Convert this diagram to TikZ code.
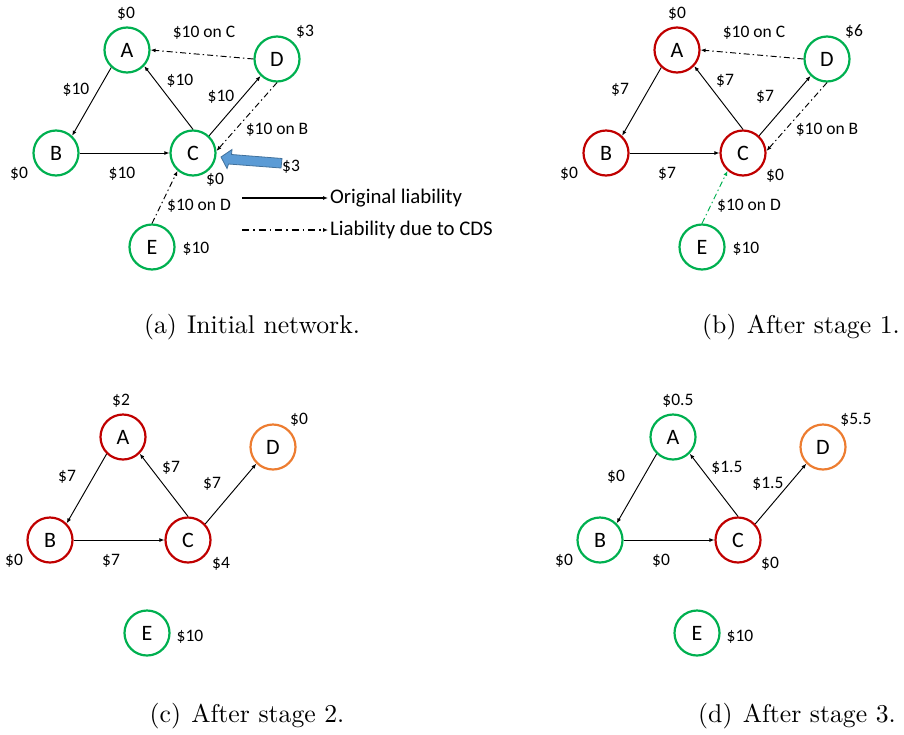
\documentclass[tikz,border=0pt]{standalone}
\usepackage{fontspec}
\newfontfamily\calfont{Carlito}
\usetikzlibrary{arrows.meta}
\definecolor{okgreen}{RGB}{0,176,80}
\definecolor{badred}{RGB}{192,0,0}
\definecolor{hitorange}{RGB}{237,125,49}
\definecolor{shockfill}{RGB}{91,155,213}
\definecolor{shockline}{RGB}{65,113,156}
\tikzset{
  bank/.style={circle,draw,line width=2.2pt,minimum size=45pt,inner sep=0,
    font=\calfont\fontsize{22}{22}\selectfont},
  sound/.style={bank,draw=okgreen},
  failed/.style={bank,draw=badred},
  hit/.style={bank,draw=hitorange},
  liab/.style={line width=0.95pt,-{Latex[length=5pt,width=4pt]}},
  cds/.style={liab,dash pattern=on 6pt off 3pt on 1.5pt off 3pt},
  legline/.style={line width=1.4pt},
  amt/.style={inner sep=0,font=\calfont\fontsize{17.5}{17.5}\selectfont},
  legtxt/.style={anchor=west,inner sep=0,font=\calfont\fontsize{20.8}{21}\selectfont},
  subcap/.style={inner sep=0,scale=2.57,font=\fontsize{10}{12}\selectfont}
}

\begin{document}
\begin{tikzpicture}[x=1pt,y=-1pt]
  \useasboundingbox (0,0) rectangle (904,734);

  % (a) initial network
  \node[sound] (aA) at (127,50) {A};
  \node[sound] (aB) at (56,153) {B};
  \node[sound] (aC) at (193,153) {C};
  \node[sound] (aD) at (277,59) {D};
  \node[sound] (aE) at (152,247) {E};
  \draw[liab] (aA.-132) -- (aB.47);
  \draw[liab] (aC.90) -- (aA.-43);
  \draw[liab] (aB) -- (aC);
  \draw[liab] (aC.47) -- (aD.-134);
  \draw[cds] (aD.west) -- (aA.east);
  \draw[cds] (aD.-90) -- (aC.5);
  \draw[cds] (aE.90) -- (aC.-131);
  \node[amt] (aAv) at (126,14) {\$0};
  \node[amt] (aDA) at (204,33) {\$10 on C};
  \node[amt] (aDv) at (305,32) {\$3};
  \node[amt] (aAB) at (76,90) {\$10};
  \node[amt] (aCA) at (180,81) {\$10};
  \node[amt] (aCD) at (221,97) {\$10};
  \node[amt] (aDC) at (277,130) {\$10 on B};
  \node[amt] (aBv) at (19,174) {\$0};
  \node[amt] (aBC) at (122,174) {\$10};
  \node[amt] (aCv) at (215,180) {\$0};
  \node[amt] (aEC) at (199,206) {\$10 on D};
  \node[amt] (aEv) at (196,249) {\$10};
  % shock on C
  \filldraw[fill=shockfill,draw=shockline,line width=0.8pt]
    (221,157) -- (232,149.5) -- (231.5,154.5) -- (282,158.5)
    -- (281,168) -- (228.5,164) -- (227,168.5) -- cycle;
  \node[amt] (shock) at (291,167) {\$3};
  % legend
  \node[legtxt] (legorig) at (330,198) {Original liability};
  \node[legtxt] (legcds) at (330,230) {Liability due to CDS};
  \coordinate (legA) at (242,198);
  \coordinate (legB) at (242,230);
  \draw[liab,legline] (legA) -- ([xshift=-2pt]legA -| legorig.west);
  \draw[cds,legline,dash pattern=on 7pt off 4pt on 1.5pt off 4pt] (legB) -- ([xshift=-2pt]legB -| legcds.west);
  \node[subcap] (capa) at (252,327) {(a)\hspace{.4em}Initial network.};

  % (b) after stage 1
  \node[failed] (bA) at (677,50) {A};
  \node[failed] (bB) at (606,153) {B};
  \node[failed] (bC) at (743,153) {C};
  \node[sound] (bD) at (827,59) {D};
  \node[sound] (bE) at (702,247) {E};
  \draw[liab] (bA.-132) -- (bB.47);
  \draw[liab] (bC.90) -- (bA.-43);
  \draw[liab] (bB) -- (bC);
  \draw[liab] (bC.47) -- (bD.-134);
  \draw[cds] (bD.west) -- (bA.east);
  \draw[cds] (bD.-90) -- (bC.5);
  \draw[cds,okgreen] (bE.90) -- (bC.-131);
  \node[amt] (bAv) at (677,14) {\$0};
  \node[amt] (bDA) at (754,33) {\$10 on C};
  \node[amt] (bDv) at (854,32) {\$6};
  \node[amt] (bAB) at (620,90) {\$7};
  \node[amt] (bCA) at (725,81) {\$7};
  \node[amt] (bCD) at (765,97) {\$7};
  \node[amt] (bDC) at (827,130) {\$10 on B};
  \node[amt] (bBv) at (569,174) {\$0};
  \node[amt] (bBC) at (667,174) {\$7};
  \node[amt] (bCv) at (775,176) {\$0};
  \node[amt] (bEC) at (749,206) {\$10 on D};
  \node[amt] (bEv) at (746,249) {\$10};
  \node[subcap] (capb) at (801,327) {(b)\hspace{.4em}After stage 1.};

  % (c) after stage 2
  \node[failed] (cA) at (123,437) {A};
  \node[failed] (cB) at (50,540) {B};
  \node[failed] (cC) at (188,540) {C};
  \node[hit] (cD) at (273,447) {D};
  \node[sound] (cE) at (147,633) {E};
  \draw[liab] (cA.-134) -- (cB.45);
  \draw[liab] (cC.90) -- (cA.-45);
  \draw[liab] (cB) -- (cC);
  \draw[liab] (cC.43) -- (cD.-135);
  \node[amt] (cAv) at (121,401) {\$2};
  \node[amt] (cDv) at (299,420) {\$0};
  \node[amt] (cAB) at (67,477) {\$7};
  \node[amt] (cCA) at (171,468) {\$7};
  \node[amt] (cCD) at (212,484) {\$7};
  \node[amt] (cBv) at (14,561) {\$0};
  \node[amt] (cBC) at (111,561) {\$7};
  \node[amt] (cCv) at (221,564) {\$4};
  \node[amt] (cEv) at (190,637) {\$10};
  \node[subcap] (capc) at (247,716) {(c)\hspace{.4em}After stage 2.};

  % (d) after stage 3
  \node[sound] (dA) at (673,437) {A};
  \node[sound] (dB) at (600,540) {B};
  \node[failed] (dC) at (738,540) {C};
  \node[hit] (dD) at (823,447) {D};
  \node[sound] (dE) at (697,633) {E};
  \draw[liab] (dA.-134) -- (dB.45);
  \draw[liab] (dC.90) -- (dA.-45);
  \draw[liab] (dB) -- (dC);
  \draw[liab] (dC.43) -- (dD.-135);
  \node[amt] (dAv) at (678,401) {\$0.5};
  \node[amt] (dDv) at (856,420) {\$5.5};
  \node[amt] (dAB) at (616,477) {\$0};
  \node[amt] (dCA) at (727,468) {\$1.5};
  \node[amt] (dCD) at (768,484) {\$1.5};
  \node[amt] (dBv) at (564,561) {\$0};
  \node[amt] (dBC) at (661,561) {\$0};
  \node[amt] (dCv) at (770,564) {\$0};
  \node[amt] (dEv) at (740,637) {\$10};
  \node[subcap] (capd) at (797,716) {(d)\hspace{.4em}After stage 3.};
\end{tikzpicture}
\end{document}
